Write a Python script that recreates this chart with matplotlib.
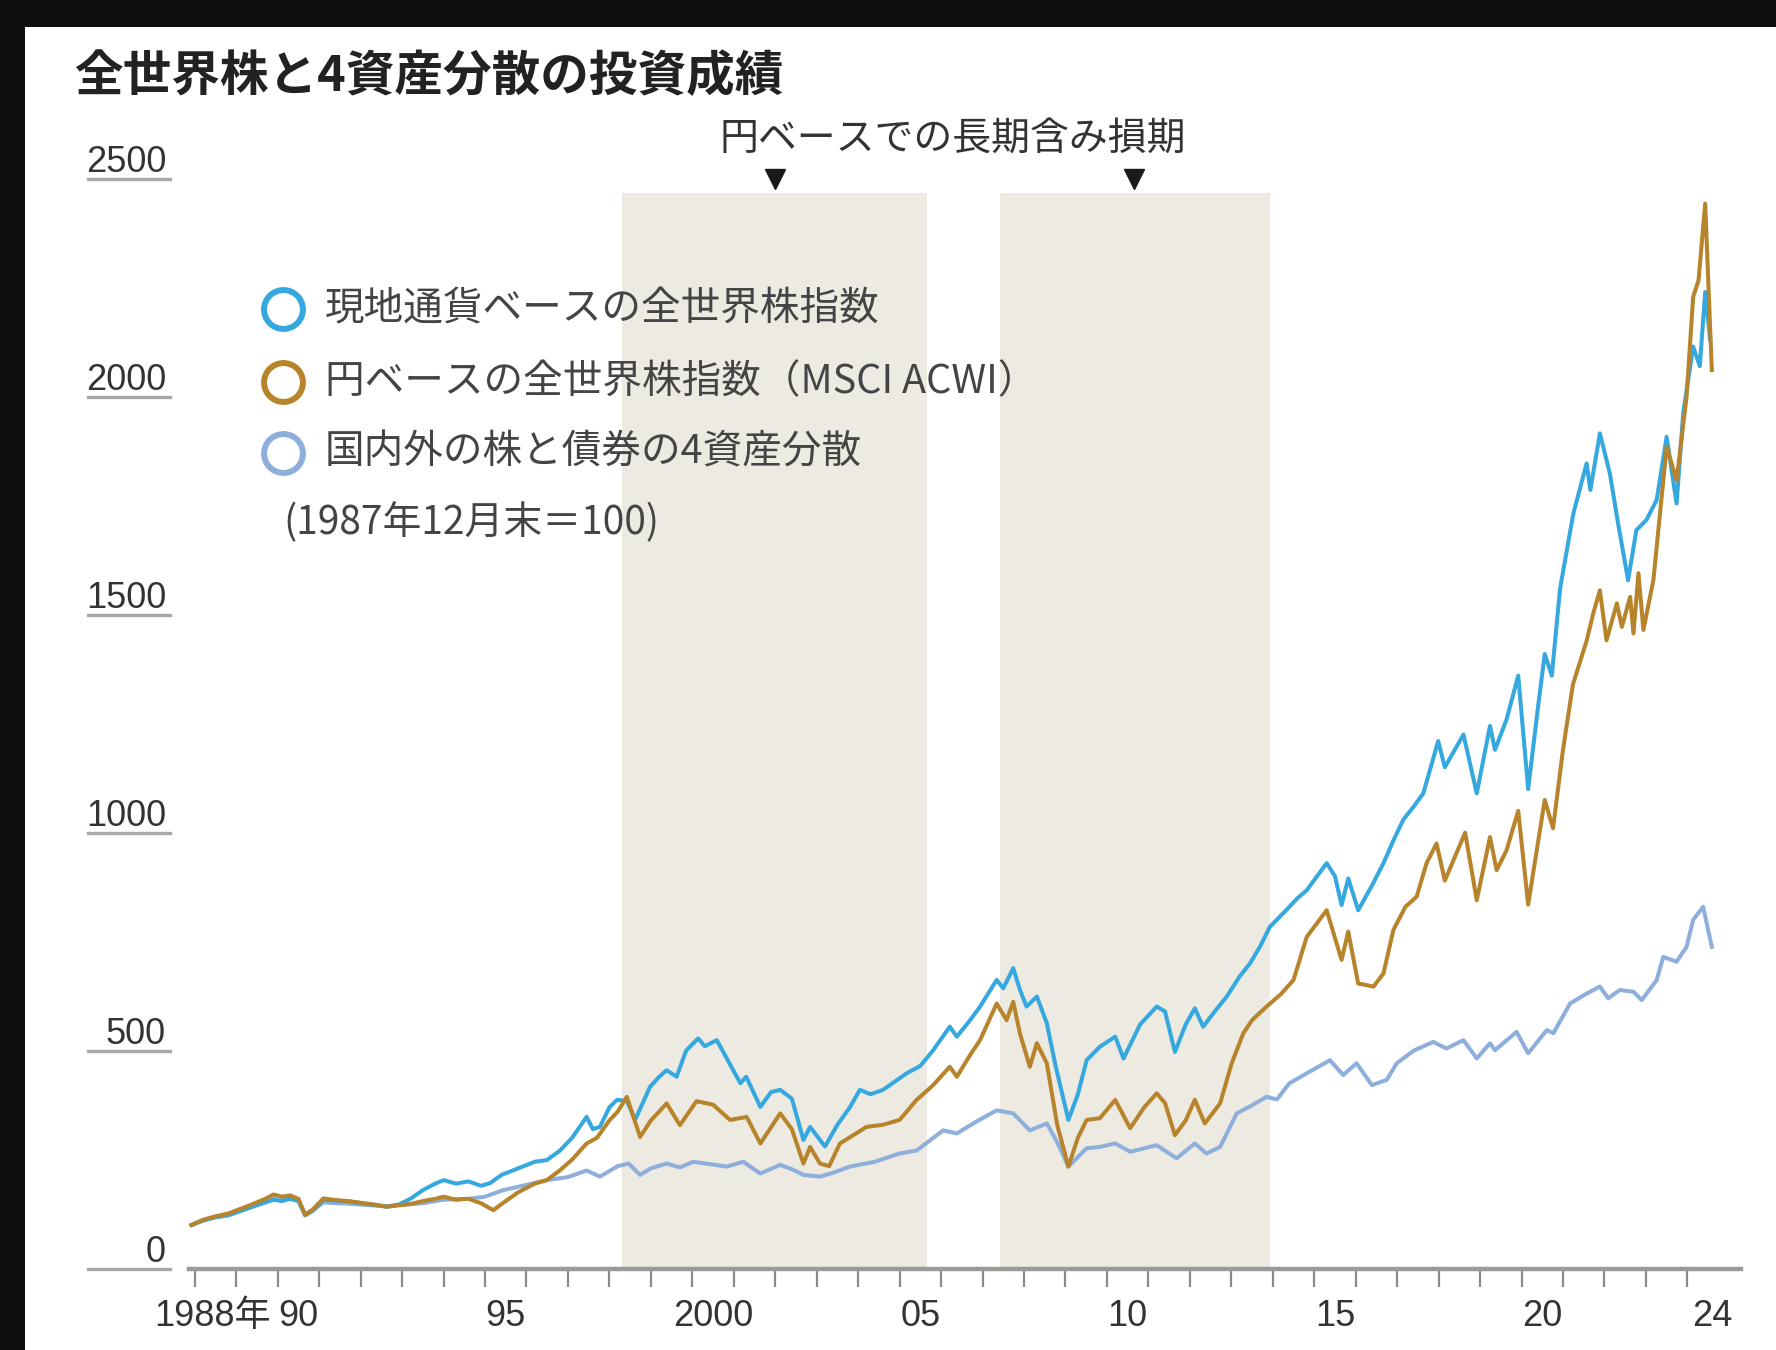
import matplotlib
matplotlib.use('Agg')
import matplotlib.pyplot as plt
import matplotlib.transforms as mtransforms
from matplotlib.lines import Line2D
from matplotlib.patches import Rectangle
import numpy as np

plt.rcParams['font.family'] = ['Noto Sans CJK JP', 'DejaVu Sans']

# 共通の初期区間 (1987年末〜1992年)
early_x = [1987.92, 1988.2, 1988.5, 1988.8, 1989.1, 1989.4, 1989.7, 1989.9, 1990.1, 1990.3,
           1990.5, 1990.66, 1990.85, 1991.1, 1991.4, 1991.7, 1992.0, 1992.3, 1992.63, 1992.9]

local_x = early_x + [
    1993.2, 1993.5, 1993.8, 1994.0, 1994.3, 1994.6, 1994.9, 1995.12, 1995.4, 1995.8,
    1996.2, 1996.49, 1996.8, 1997.1, 1997.45, 1997.6, 1997.77, 1998.0, 1998.18, 1998.42,
    1998.62, 1998.98, 1999.2, 1999.38, 1999.62, 1999.85, 2000.14, 2000.3, 2000.59, 2000.9,
    2001.16, 2001.3, 2001.64, 2001.9, 2002.12, 2002.4, 2002.68, 2002.84, 2003.08, 2003.2,
    2003.5, 2003.8, 2004.04, 2004.3, 2004.6, 2004.9, 2005.17, 2005.5, 2005.81, 2006.21,
    2006.38, 2006.7, 2006.94, 2007.34, 2007.5, 2007.74, 2007.9, 2008.06, 2008.31, 2008.55,
    2008.75, 2009.07, 2009.3, 2009.51, 2009.83, 2010.2, 2010.4, 2010.8, 2011.2, 2011.4,
    2011.64, 2011.9, 2012.12, 2012.32, 2012.6, 2012.89, 2013.2, 2013.45, 2013.7, 2013.93,
    2014.3, 2014.6, 2014.82, 2015.3, 2015.5, 2015.66, 2015.82, 2016.06, 2016.4, 2016.67,
    2016.9, 2017.15, 2017.4, 2017.63, 2017.99, 2018.15, 2018.6, 2018.92, 2019.24, 2019.36,
    2019.64, 2019.92, 2020.16, 2020.4, 2020.56, 2020.73, 2020.93, 2021.25, 2021.57, 2021.66,
    2021.89, 2022.13, 2022.33, 2022.57, 2022.77, 2023.01, 2023.26, 2023.5, 2023.74, 2023.9,
    2024.14, 2024.3, 2024.43, 2024.55]
local_y = [100, 110, 118, 122, 132, 142, 152, 158, 155, 160,
           155, 122, 133, 158, 156, 154, 150, 147, 142, 146] + [
    160, 180, 195, 203, 195, 200, 190, 196, 215, 230,
    245, 249, 270, 300, 348, 320, 325, 370, 387, 385,
    341, 417, 440, 455, 440, 500, 528, 510, 524, 470,
    425, 440, 371, 405, 410, 390, 295, 325, 295, 280,
    330, 370, 410, 400, 410, 430, 448, 465, 501, 555,
    532, 570, 601, 662, 643, 689, 640, 601, 624, 563,
    470, 341, 400, 478, 509, 532, 482, 560, 601, 590,
    497, 560, 597, 555, 590, 624, 670, 700, 740, 784,
    820, 850, 868, 930, 900, 834, 895, 822, 880, 930,
    980, 1030, 1060, 1090, 1210, 1150, 1225, 1090, 1245, 1190,
    1260, 1360, 1100, 1290, 1410, 1360, 1560, 1732, 1847, 1786,
    1916, 1824, 1709, 1579, 1694, 1717, 1763, 1908, 1755, 1962,
    2115, 2070, 2240, 2130]

yen_x = early_x + [
    1993.2, 1993.5, 1993.8, 1994.0, 1994.3, 1994.6, 1994.9, 1995.2, 1995.5, 1995.8,
    1996.2, 1996.49, 1996.8, 1997.1, 1997.45, 1997.7, 1998.0, 1998.2, 1998.42, 1998.74,
    1999.0, 1999.2, 1999.38, 1999.7, 2000.1, 2000.5, 2000.91, 2001.31, 2001.64, 2002.12,
    2002.4, 2002.68, 2002.84, 2003.08, 2003.3, 2003.56, 2004.2, 2004.6, 2005.0, 2005.41,
    2005.8, 2006.21, 2006.38, 2006.7, 2006.94, 2007.34, 2007.58, 2007.74, 2007.9, 2008.14,
    2008.31, 2008.55, 2008.8, 2009.07, 2009.3, 2009.51, 2009.83, 2010.2, 2010.56, 2010.9,
    2011.2, 2011.4, 2011.64, 2011.9, 2012.12, 2012.36, 2012.73, 2013.01, 2013.29, 2013.5,
    2013.85, 2014.2, 2014.5, 2014.82, 2015.3, 2015.66, 2015.82, 2016.06, 2016.43, 2016.67,
    2016.91, 2017.2, 2017.47, 2017.71, 2017.95, 2018.15, 2018.64, 2018.92, 2019.24, 2019.4,
    2019.64, 2019.92, 2020.16, 2020.56, 2020.76, 2021.0, 2021.24, 2021.57, 2021.73, 2021.89,
    2022.05, 2022.3, 2022.42, 2022.62, 2022.7, 2022.82, 2022.94, 2023.18, 2023.42, 2023.5,
    2023.74, 2023.98, 2024.14, 2024.27, 2024.43, 2024.59]
yen_y = [100, 112, 120, 126, 137, 148, 160, 170, 165, 168,
         160, 123, 136, 161, 157, 155, 151, 147, 142, 145] + [
    148, 155, 160, 165, 158, 160, 150, 134, 155, 175,
    195, 203, 225, 250, 287, 300, 340, 360, 394, 302,
    340, 360, 379, 329, 384, 376, 341, 348, 287, 356,
    320, 241, 279, 241, 235, 287, 325, 330, 341, 387,
    420, 463, 440, 490, 524, 608, 570, 612, 540, 463,
    517, 471, 330, 234, 300, 341, 345, 387, 322, 370,
    402, 380, 306, 340, 387, 333, 379, 471, 540, 570,
    601, 630, 662, 761, 822, 708, 773, 654, 647, 677,
    777, 830, 853, 930, 975, 890, 1000, 845, 990, 914,
    960, 1050, 835, 1075, 1010, 1190, 1340, 1440, 1503, 1556,
    1441, 1526, 1472, 1541, 1457, 1595, 1465, 1579, 1808, 1885,
    1808, 1999, 2229, 2267, 2443, 2061]

mix_x = early_x + [
    1993.5, 1994.0, 1994.6, 1995.0, 1995.44, 1996.0, 1996.49, 1997.0, 1997.45, 1997.77,
    1998.2, 1998.46, 1998.74, 1999.0, 1999.38, 1999.7, 2000.02, 2000.4, 2000.83, 2001.23,
    2001.64, 2002.12, 2002.4, 2002.68, 2003.08, 2003.4, 2003.8, 2004.4, 2005.0, 2005.41,
    2006.05, 2006.38, 2006.9, 2007.34, 2007.74, 2008.14, 2008.55, 2008.8, 2009.07, 2009.51,
    2009.83, 2010.2, 2010.56, 2011.2, 2011.68, 2012.12, 2012.4, 2012.73, 2013.13, 2013.45,
    2013.85, 2014.1, 2014.4, 2014.82, 2015.38, 2015.7, 2016.02, 2016.39, 2016.75, 2016.99,
    2017.4, 2017.87, 2018.19, 2018.6, 2018.92, 2019.24, 2019.36, 2019.88, 2020.16, 2020.61,
    2020.77, 2021.17, 2021.5, 2021.89, 2022.09, 2022.37, 2022.7, 2022.9, 2023.26, 2023.42,
    2023.74, 2023.98, 2024.14, 2024.38, 2024.59]
mix_y = [100, 111, 118, 123, 133, 143, 152, 160, 157, 160,
         155, 125, 134, 152, 150, 149, 147, 145, 143, 146] + [
    150, 158, 160, 165, 180, 192, 203, 210, 225, 211,
    235, 241, 215, 230, 241, 232, 245, 240, 234, 245,
    218, 238, 228, 215, 211, 220, 234, 245, 264, 271,
    317, 310, 340, 363, 356, 317, 333, 290, 234, 276,
    279, 287, 268, 283, 253, 287, 264, 279, 356, 372,
    394, 388, 425, 448, 478, 444, 471, 421, 433, 471,
    500, 520, 505, 524, 482, 517, 501, 543, 494, 547,
    540, 608, 627, 647, 620, 639, 635, 616, 662, 715,
    704, 738, 800, 830, 738]

labels = ['現地通貨ベースの全世界株指数', '円ベースの全世界株指数（MSCI ACWI）', '国内外の株と債券の4資産分散']
colors = ['#35a8e0', '#b7842c', '#8eaedb']

shade_periods = [(1998.3, 2005.65), (2007.43, 2013.93)]
arrow_years = [2002.0, 2010.65]

y_ticks = [0, 500, 1000, 1500, 2000, 2500]
x_label_pos = [1988.42, 1990.5, 1995.5, 2000.5, 2005.5, 2010.5, 2015.5, 2020.5, 2024.6]
x_label_text = ['1988年', '90', '95', '2000', '05', '10', '15', '20', '24']

W, H = 1776, 1350
fig = plt.figure(figsize=(W / 100, H / 100), dpi=100, facecolor='#0e0e0e')
fig.add_artist(Rectangle((25 / W, 0), 1 - 25 / W, 1 - 27 / H, transform=fig.transFigure,
                         facecolor='white', edgecolor='none', zorder=0))

x0, x1 = 1987.85, 2025.3
px_left = 188.6
px_right = 194.8 + (x1 - 1988) * 41.46
y_top_px = 170
y_zero_px = 1268.6
ax = fig.add_axes([px_left / W, 1 - y_zero_px / H, (px_right - px_left) / W,
                   (y_zero_px - y_top_px) / H])
ax.set_xlim(x0, x1)
ax.set_ylim(0, 2520)
ax.patch.set_alpha(0)
for s in ['top', 'right', 'left']:
    ax.spines[s].set_visible(False)
ax.spines['bottom'].set_color('#9a9a9a')
ax.spines['bottom'].set_linewidth(3.2)
ax.spines['bottom'].set_zorder(5)

for a, b in shade_periods:
    ax.axvspan(a, b, ymin=0, ymax=2467 / 2520, color='#edeae2', lw=0, zorder=1)

ax.plot(mix_x, mix_y, color=colors[2], lw=2.9, zorder=3, solid_joinstyle='round')
ax.plot(local_x, local_y, color=colors[0], lw=2.9, zorder=3, solid_joinstyle='round')
ax.plot(yen_x, yen_y, color=colors[1], lw=2.9, zorder=4, solid_joinstyle='round')

# 下向き三角と注記
ax.plot(arrow_years, [2500, 2500], 'v', color='#1a1a1a', markersize=15, clip_on=False, zorder=6)
fig.text(953 / W, 1 - 139 / H, '円ベースでの長期含み損期', fontsize=28, color='#333333',
         ha='center', va='center')

# y軸: 左側の短い線と数値
num_font = ['Liberation Sans', 'DejaVu Sans']
trans = mtransforms.blended_transform_factory(ax.transAxes, ax.transData)
fl = (88 - px_left) / (px_right - px_left)
fr = (170 - px_left) / (px_right - px_left)
ft = (166 - px_left) / (px_right - px_left)
for v in y_ticks:
    ax.plot([fl, fr], [v, v], color='#a8a8a8', lw=2.4, transform=trans, clip_on=False)
    ax.text(ft, v + 16, str(v), transform=trans, ha='right', va='baseline',
            fontsize=26, color='#333333', family=num_font)
ax.set_yticks([])

# x軸: 年の境目に目盛り、年の中央に数字
ax.set_xticks(np.arange(1988, 2025), minor=True)
ax.tick_params(axis='x', which='minor', direction='out', length=13, width=1.6, color='#8a8a8a')
ax.set_xticks(x_label_pos)
ax.set_xticklabels(x_label_text)
ax.tick_params(axis='x', which='major', length=0, pad=22, labelsize=26, labelcolor='#333333')
for t in ax.get_xticklabels():
    t.set_family(['Liberation Sans', 'Noto Sans CJK JP'])

# タイトル
fig.text(74 / W, 1 - 77 / H, '全世界株と4資産分散の投資成績', fontsize=35, fontweight='bold',
         color='#222222', ha='left', va='center')

# 凡例
leg_y = [309, 382, 453]
for lab, col, yy in zip(labels, colors, leg_y):
    fig.add_artist(Line2D([283 / W], [1 - yy / H], marker='o', markersize=28,
                          markerfacecolor='none', markeredgecolor=col, markeredgewidth=4.3,
                          transform=fig.transFigure))
    fig.text(325 / W, 1 - yy / H, lab, fontsize=28.5, color='#444444', ha='left', va='center')
fig.text(283 / W, 1 - 523 / H, '(1987年12月末＝100)', fontsize=28, color='#444444',
         ha='left', va='center')

fig.savefig('out.png', dpi=100, facecolor=fig.get_facecolor())
